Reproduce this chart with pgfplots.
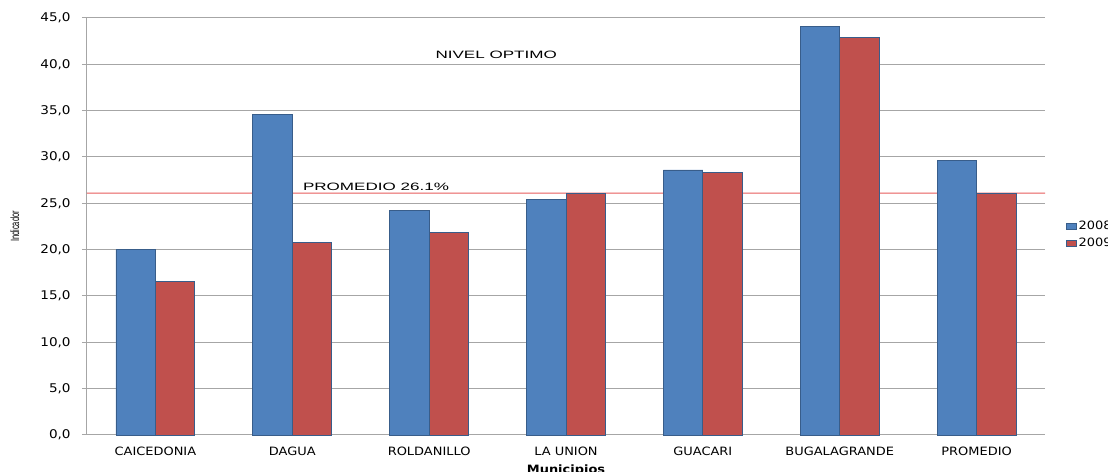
\documentclass[border=0pt]{standalone}
\usepackage{pgfplots}
\pgfplotsset{compat=1.18}
\usepackage{graphicx}
\usepackage{fontspec}
\setmainfont{DejaVu Sans}
\newfontfamily\libsans{Liberation Sans}
\definecolor{cblue}{HTML}{4F81BD}
\definecolor{cred}{HTML}{C0504D}
\definecolor{cedge}{HTML}{385D8A}
\definecolor{promline}{RGB}{230,90,90}
\definecolor{cgrid}{HTML}{A6A6A6}
\newcommand{\tk}[1]{\scalebox{1.13}[1]{#1}}
\begin{document}
\begin{tikzpicture}
\begin{axis}[
  scale only axis,
  width=718.5pt, height=312.75pt,
  xmin=-0.5, xmax=6.5, ymin=0, ymax=45,
  ybar=0pt, bar width=29.6pt,
  axis x line*=bottom, axis y line*=left,
  axis line style={cgrid, line width=0.75pt},
  ymajorgrids, grid style={cgrid, line width=0.75pt},
  ytick={0,5,...,45},
  xtick={0,1,2,3,4,5,6},
  xtick style={draw=none},
  ytick style={cgrid, line width=0.75pt},
  tick align=outside, major tick length=3.75pt,
  /pgf/number format/assume math mode=true,
  yticklabel={\tk{\pgfmathprintnumber[fixed,fixed zerofill,precision=1,use comma]{\tick}}},
  yticklabel style={font=\fontsize{9}{10}\selectfont, xshift=-5pt},
  xticklabel style={font=\fontsize{8.6}{10}\selectfont, yshift=-2pt},
  xticklabels={\tk{CAICEDONIA},\tk{DAGUA},\tk{ROLDANILLO},\tk{LA UNION},\tk{GUACARI},\tk{BUGALAGRANDE},\tk{PROMEDIO}},
  xlabel={\scalebox{1.13}[1]{\bfseries Municipios}},
  xlabel style={at={(axis description cs:0.5,0)}, anchor=north, inner sep=0pt, yshift=-22pt, font=\fontsize{8.6}{10}\selectfont},
  ylabel={\scalebox{1}[1.6]{\libsans\fontsize{5.6}{6}\selectfont Indicador}},
  ylabel style={at={(axis description cs:-0.0752,0.5)}, anchor=center, rotate=0, inner sep=0pt},
  legend style={at={(rel axis cs:1.0175,0.48)}, anchor=west, draw=none, fill=none,
    font=\fontsize{8.6}{10}\selectfont, row sep=1.5pt,
    nodes={inner sep=1.5pt}},
  clip=false,
]
\addplot[sharp plot, no marks, fill=promline, draw=none, forget plot, bar shift=0pt]
  coordinates {(-0.5,26.04) (6.5,26.04) (6.5,26.16) (-0.5,26.16) (-0.5,26.04)};
\addplot[fill=cblue, draw=cedge, line width=0.6pt,
  legend image code/.code={\draw[fill=cblue, draw=cedge, line width=0.5pt] (0pt,-2.25pt) rectangle (7.5pt,2.25pt);}]
  coordinates {(0,20.0) (1,34.6) (2,24.2) (3,25.4) (4,28.6) (5,44.1) (6,29.6)};
\addplot[fill=cred, draw=cedge, line width=0.6pt,
  legend image code/.code={\draw[fill=cred, draw=cedge, line width=0.5pt] (0pt,-2.25pt) rectangle (7.5pt,2.25pt);}]
  coordinates {(0,16.6) (1,20.8) (2,21.9) (3,26.1) (4,28.3) (5,42.9) (6,26.1)};
\legend{\tk{2008},\tk{2009}}
\node[font=\libsans\fontsize{8}{9}\selectfont, inner sep=0pt] at (axis cs:2.49,41.0) {\scalebox{1.6}[1]{NIVEL OPTIMO}};
\node[font=\libsans\fontsize{8}{9}\selectfont, inner sep=0pt] at (axis cs:1.612,26.8) {\scalebox{1.6}[1]{PROMEDIO 26.1\%}};
\coordinate (ll) at (rel axis cs:0,0);
\coordinate (ur) at (rel axis cs:1,1);
\end{axis}
\pgfresetboundingbox
\path[use as bounding box] ([shift={(-65.25pt,-27.75pt)}]ll) rectangle ([shift={(47.25pt,13.5pt)}]ur);
\end{tikzpicture}
\end{document}
